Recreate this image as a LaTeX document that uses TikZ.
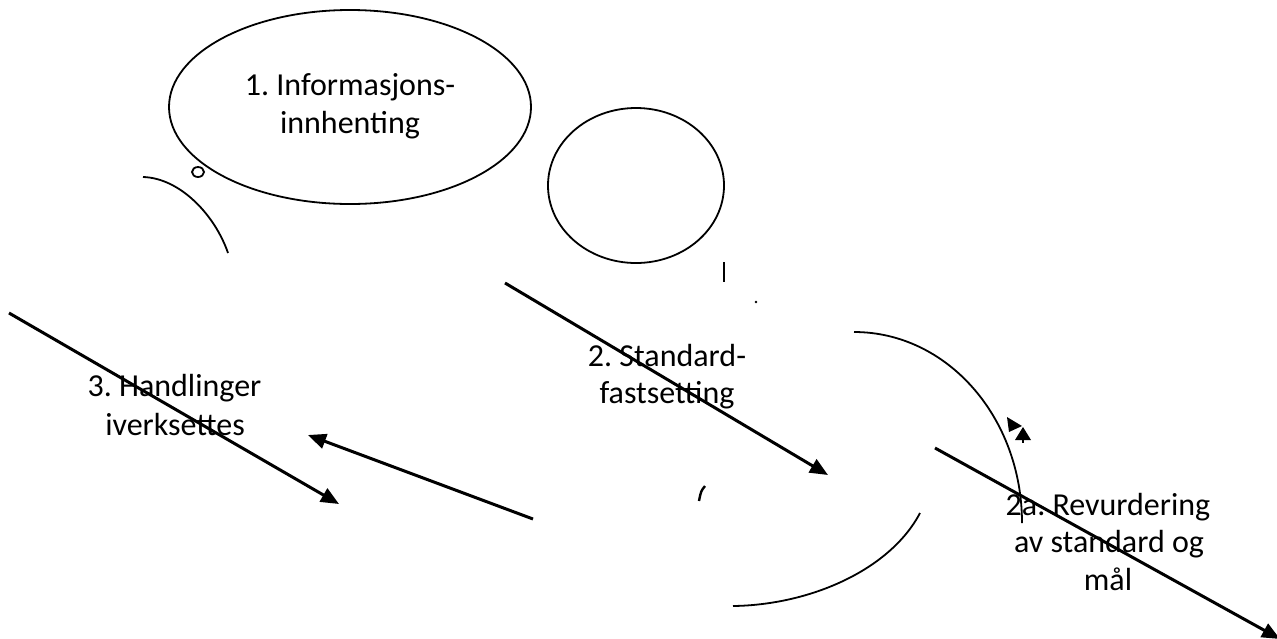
\documentclass[tikz,border=0pt]{standalone}
\usepackage{fontspec}
\setmainfont{Carlito}
\frenchspacing
\usetikzlibrary{arrows.meta,shapes.geometric}
\begin{document}
\begin{tikzpicture}[x=1pt,y=-1pt,
  outl/.style={line width=1.8pt},
  conn/.style={line width=3pt,-{Triangle[length=18pt,width=15pt]}},
  lbl/.style={inner sep=0pt,anchor=base,font=\fontsize{32}{38}\selectfont}]
\useasboundingbox (0,0) rectangle (1277,638);
% shapes
\node[outl,draw,ellipse,minimum width=362pt,minimum height=194pt,inner sep=0pt] (ell) at (350,107) {};
\draw[outl] (198,172) ellipse (6 and 5);
\node[outl,draw,ellipse,minimum width=176pt,minimum height=155pt,inner sep=0pt] (circ) at (636,185.5) {};
\coordinate (la1) at (143,177); \coordinate (la2) at (228,253);
\draw[outl] (la1) .. controls (180,178) and (215,215) .. (la2);
\coordinate (ra1) at (854,332); \coordinate (ra2) at (1022,523);
\draw[outl] (ra1) .. controls (947,332) and (1022,417) .. (ra2);
\coordinate (ba1) at (920,513); \coordinate (ba2) at (733,606);
\draw[outl] (ba1) .. controls (890,570) and (810,605) .. (ba2);
\coordinate (t1) at (724,262); \coordinate (t2) at (724,282);
\draw[line width=2.4pt] (t1) -- (t2);
\fill (756,302) circle (1.3);
\coordinate (p1) at (705,486); \coordinate (p2) at (699,501);
\draw[line width=2.4pt] (p1) .. controls (701,491) .. (p2);
% small arrowheads
\fill (1007,417) -- (1022,426) -- (1009,432) -- cycle;
\fill (1023,427) -- (1031,440) -- (1015,440) -- cycle;
\draw[line width=1.8pt] (1023,438) -- (1023,443);
% connectors
\coordinate (a1) at (505,283); \coordinate (a2) at (828,475);
\draw[conn] (a1) -- (a2);
\coordinate (b1) at (9,313); \coordinate (b2) at (339,504);
\draw[conn] (b1) -- (b2);
\coordinate (c1) at (533,519); \coordinate (c2) at (308,435);
\draw[conn] (c1) -- (c2);
\coordinate (d1) at (935,448); \coordinate (d2) at (1280,639);
\draw[conn] (d1) -- (d2);
% labels
\node[lbl] (l1a) at (350,95) {1. Informasjons-};
\node[lbl] (l1b) at (350,133) {innhenting};
\node[lbl] (l2a) at (667,366) {2. Standard-};
\node[lbl] (l2b) at (667,403) {fastsetting};
\node[lbl] (l3a) at (174.5,396) {3. Handlinger};
\node[lbl] (l3b) at (175,435) {iverksettes};
\node[lbl] (l4a) at (1108,515) {2a. Revurdering};
\node[lbl] (l4b) at (1109,552) {av standard og};
\node[lbl] (l4c) at (1108,590) {mål};
\end{tikzpicture}
\end{document}
